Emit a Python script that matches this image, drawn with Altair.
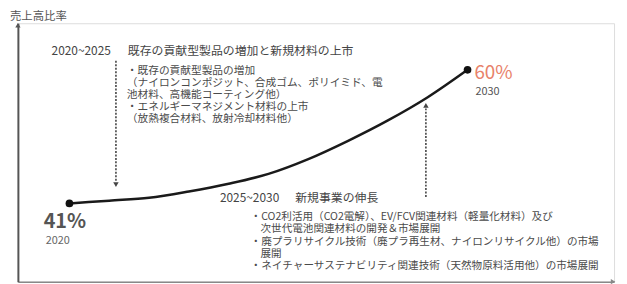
import altair as alt
import pandas as pd

# ---- data ----
years = [2020, 2021, 2022, 2023, 2024, 2025, 2026, 2027, 2028, 2029, 2030]
ratio = [41.0, 41.4, 41.8, 42.7, 43.8, 45.2, 47.3, 49.9, 52.8, 56.1, 60.0]

y_title = "売上高比率"
start_label = "41%"
start_year = "2020"
end_label = "60%"
end_year = "2030"

head1_period = "2020~2025"
head1_text = "既存の貢献型製品の増加と新規材料の上市"
block1 = [
    "・既存の貢献型製品の増加",
    "（ナイロンコンポジット、合成ゴム、ポリイミド、電",
    "池材料、高機能コーティング他）",
    "・エネルギーマネジメント材料の上市",
    "（放熱複合材料、放射冷却材料他）",
]
head2_period = "2025~2030"
head2_text = "新規事業の伸長"
block2 = [
    "・CO2利活用（CO2電解）、EV/FCV関連材料（軽量化材料）及び",
    "次世代電池関連材料の開発＆市場展開",
    "・廃プラリサイクル技術（廃プラ再生材、ナイロンリサイクル他）の市場",
    "展開",
    "・ネイチャーサステナビリティ関連技術（天然物原料活用他）の市場展開",
]

df = pd.DataFrame({"year": years, "ratio": ratio})
ends = pd.DataFrame({"year": [years[0], years[-1]], "ratio": [ratio[0], ratio[-1]]})
one = pd.DataFrame({"k": [0]})

FONT = "Noto Sans CJK JP"
L, T = 18, 22  # plot area origin on page

def px(x):
    return alt.value(x - L)

def py(y):
    return alt.value(y - T)

xs = alt.Scale(domain=[2018.706, 2033.68], nice=False, zero=False)
ys = alt.Scale(domain=[29.88, 66.62], nice=False, zero=False)

line = alt.Chart(df).mark_line(color="#1a1a1a", strokeWidth=2.5, interpolate="monotone").encode(
    x=alt.X("year:Q", scale=xs,
            axis=alt.Axis(title=None, labels=False, ticks=False, grid=False,
                          domainColor="#888", domainWidth=1.5)),
    y=alt.Y("ratio:Q", scale=ys,
            axis=alt.Axis(title=None, labels=False, ticks=False, grid=False,
                          domainColor="#555", domainWidth=2)),
)
dots = alt.Chart(ends).mark_circle(color="#111", size=60, opacity=1).encode(
    x=alt.X("year:Q", scale=xs), y=alt.Y("ratio:Q", scale=ys)
)

def text(content, x, y, size, color="#444", align="left", weight="normal", baseline="middle"):
    kw = dict(font=FONT, fontSize=size, color=color, align=align, baseline=baseline, fontWeight=weight)
    return alt.Chart(one).mark_text(**kw).encode(x=px(x), y=py(y), text=alt.value(content))

def rule(x, y1, y2, color="#444"):
    return alt.Chart(one).mark_rule(color=color, strokeWidth=1.6, strokeDash=[2, 1.5]).encode(
        x=px(x), y=py(y1), y2=py(y2))

def tri(x, y, shape, size=30, color="#444"):
    return alt.Chart(one).mark_point(shape=shape, filled=True, size=size, color=color, opacity=1).encode(
        x=px(x), y=py(y))

def block(lines, x, y0, step, size, indent_x=None):
    out = []
    for i, s in enumerate(lines):
        xx = x
        if indent_x is not None and not s.startswith("・"):
            xx = indent_x
        out.append(text(s, xx, y0 + i * step, size, "#4a4a4a"))
    return out

layers = [
    line, dots,
    # axis arrows
    tri(18, 24, "triangle-up", 28, "#555"),
    tri(619, 283, "triangle-right", 28, "#888"),
    text(y_title, 10, 16, 11.5, "#555"),
    # end labels
    text(start_label, 44, 223, 20, "#555", weight="bold"),
    text(start_year, 46, 242, 11, "#666"),
    text(end_label, 479, 72, 19, "#e8826a"),
    text(end_year, 480, 91, 11, "#555"),
    # block 1
    text(head1_period, 52, 50, 12, "#444"),
    text(head1_text, 129, 50, 12, "#444"),
    *block(block1, 128, 70, 12.3, 10.8),
    rule(117, 60, 182),
    tri(117, 185, "triangle-down", 30),
    # block 2
    text(head2_period, 222, 199, 12, "#444"),
    text(head2_text, 298, 199, 12, "#444"),
    *block(block2, 253, 217.5, 12.5, 10.7, indent_x=263),
    rule(430, 108, 198),
    tri(430, 105, "triangle-up", 30),
]

chart = alt.layer(*layers).properties(
    width=602, height=261,
    autosize=alt.AutoSizeParams(type="none"),
    padding={"left": 10, "top": 14, "right": 5, "bottom": 5},
).configure_view(stroke=None).configure(background="white")

chart.save("out.html", embed_options={"renderer": "svg", "actions": False})
